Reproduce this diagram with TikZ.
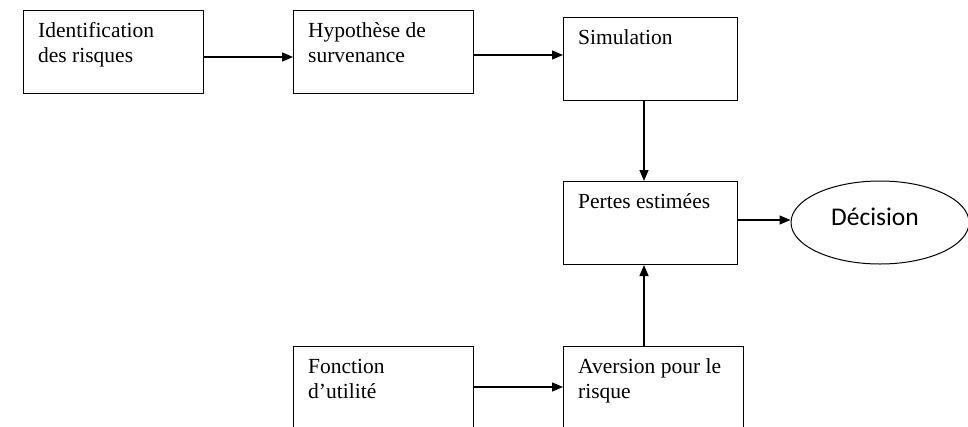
\documentclass[tikz,border=0pt]{standalone}
\usepackage{fontspec}
\setmainfont{Liberation Serif}
\newfontfamily\decfont{Carlito}
\usetikzlibrary{arrows.meta,shapes.geometric}
\begin{document}
\begin{tikzpicture}[x=1pt,y=-1pt,
  box/.style={draw,line width=1pt,rectangle,minimum height=83pt,inner sep=0pt,anchor=north west},
  lab/.style={anchor=base west,inner sep=0pt,font=\fontsize{21.5}{25}\selectfont,align=left},
  conn/.style={line width=1.3pt,-{Triangle[length=11pt,width=9pt]}}]
\useasboundingbox (0,0) rectangle (968,426);
\clip (0,0) rectangle (968,426);
% boxes
\node[box,minimum width=180pt] (b1) at (23,10) {};
\node[box,minimum width=180pt] (b2) at (293,10) {};
\node[box,minimum width=174pt] (b3) at (563,17) {};
\node[box,minimum width=174pt] (b4) at (563,181) {};
\node[box,minimum width=180pt,minimum height=100pt] (b5) at (293,346) {};
\node[box,minimum width=180pt,minimum height=100pt] (b6) at (563,346) {};
\node[draw,line width=1pt,ellipse,minimum width=178pt,minimum height=83pt,inner sep=0pt] (dec) at (880,222.5) {};
% texts (base = baseline of last line)
\node[lab] (t1) at (38,62) {Identification\\des risques};
\node[lab] (t2) at (308,62) {Hypothèse de\\survenance};
\node[lab] (t3) at (578,44) {Simulation};
\node[lab] (t4) at (578,208) {Pertes estimées};
\node[lab] (t5) at (308,398) {Fonction\\d’utilité};
\node[lab] (t6) at (578,398) {Aversion pour le\\risque};
\node[font=\decfont\fontsize{25.5}{30}\selectfont,inner sep=0pt,anchor=base] (td) at (875,225) {Décision};
% connectors
\draw[conn] (b1.east |- 0,57) -- (b2.west |- 0,57);
\draw[conn] (b2.east |- 0,55) -- (b3.west |- 0,55);
\draw[conn] (b3.south -| 644,0) -- (b4.north -| 644,0);
\draw[conn] (b4.east |- 0,220) -- (dec.west |- 0,220);
\draw[conn] (b5.east |- 0,387) -- (b6.west |- 0,387);
\draw[conn] (b6.north -| 644,0) -- (b4.south -| 644,0);
\end{tikzpicture}
\end{document}
